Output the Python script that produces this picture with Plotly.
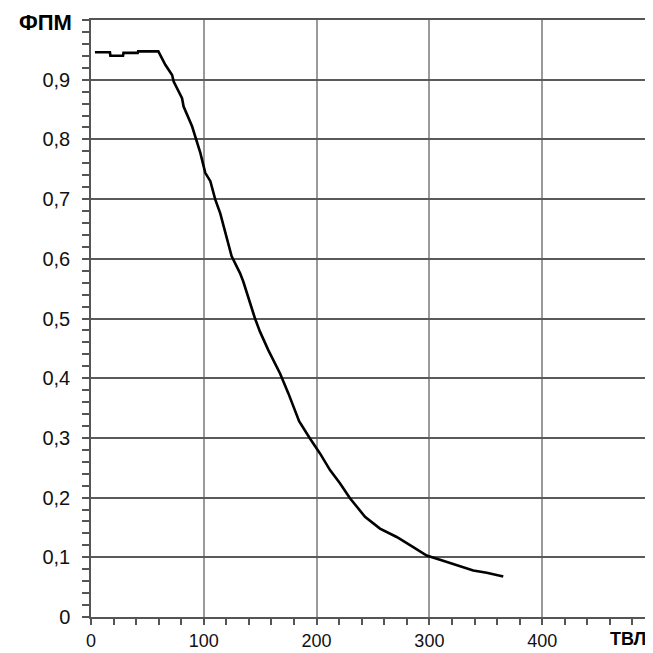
import plotly.graph_objects as go

# Data
tvl = [3.5, 16.8, 17.2, 28.4, 28.8, 41.4, 41.8, 59.7, 65.9, 71.9, 73.3, 80.7, 82.1, 89.6,
       97.0, 101.3, 105.8, 110.2, 114.6, 120.4, 124.7, 132.1, 135.0, 145.4, 149.8, 157.2,
       167.6, 174.9, 184.5, 194.1, 203.0, 211.9, 220.7, 229.6, 242.9, 256.2, 271.0, 285.7,
       297.6, 309.4, 324.2, 338.9, 350.8, 365.5]
fpm = [0.946, 0.946, 0.940, 0.940, 0.945, 0.945, 0.9475, 0.9475, 0.925, 0.908, 0.897, 0.869,
       0.855, 0.822, 0.777, 0.744, 0.730, 0.699, 0.676, 0.634, 0.604, 0.576, 0.562, 0.500,
       0.478, 0.447, 0.408, 0.375, 0.328, 0.299, 0.274, 0.246, 0.224, 0.199, 0.168, 0.148,
       0.134, 0.117, 0.103, 0.096, 0.087, 0.078, 0.074, 0.068]

x_tickvals = [0, 100, 200, 300, 400]
x_ticktext = ["0", "100", "200", "300", "400"]
y_tickvals = [0, 0.1, 0.2, 0.3, 0.4, 0.5, 0.6, 0.7, 0.8, 0.9, 1.0]
y_ticktext = ["0", "0,1", "0,2", "0,3", "0,4", "0,5", "0,6", "0,7", "0,8", "0,9", ""]

x_title = "ТВЛ"
y_title = "ФПМ"

FONT = "Liberation Sans, Arial, sans-serif"

fig = go.Figure()
fig.add_trace(go.Scatter(x=tvl, y=fpm, mode="lines",
                         line=dict(color="black", width=2.6), showlegend=False,
                         hoverinfo="skip"))

# page body has an 8px default margin, so the figure is sized 645 and offset accordingly
fig.update_layout(
    template="none",
    width=645, height=645,
    margin=dict(l=83, r=4, t=12, b=36, pad=0, autoexpand=False),
    paper_bgcolor="white", plot_bgcolor="white",
    font=dict(family=FONT, size=18, color="#111"),
    xaxis=dict(
        range=[0, 494.7], tickvals=x_tickvals, ticktext=x_ticktext, automargin=False,
        showgrid=True, gridcolor="#9a9a9a", gridwidth=1.5, zeroline=False,
        showline=True, linecolor="#555", linewidth=1.5, mirror=True,
        ticks="outside", ticklen=6, tickwidth=1.5, tickcolor="#555",
        ticklabelstandoff=1,
        minor=dict(dtick=20, ticks="outside", ticklen=6, tickwidth=1.5,
                   tickcolor="#555", showgrid=False),
        tickfont=dict(family=FONT, size=18, color="#111"),
    ),
    yaxis=dict(
        range=[0, 1.0], tickvals=y_tickvals, ticktext=y_ticktext, automargin=False,
        showgrid=True, gridcolor="#5a5a5a", gridwidth=1.5, zeroline=False,
        showline=True, linecolor="#555", linewidth=1.5, mirror=True,
        ticks="outside", ticklen=7, tickwidth=1.5, tickcolor="#555",
        ticklabelstandoff=8,
        minor=dict(dtick=0.02, ticks="outside", ticklen=7, tickwidth=1.5,
                   tickcolor="#555", showgrid=False),
        tickfont=dict(family=FONT, size=20, color="#111"),
    ),
    annotations=[
        dict(text="<b>" + y_title + "</b>", xref="paper", yref="paper", x=0, y=1,
             xanchor="right", yanchor="middle", xshift=-17, yshift=-2, showarrow=False,
             font=dict(family=FONT, size=22, color="black")),
        dict(text="<b>" + x_title + "</b>", xref="paper", yref="paper", x=1, y=0,
             xanchor="right", yanchor="middle", xshift=-1, yshift=-22, showarrow=False,
             font=dict(family=FONT, size=18, color="black")),
    ],
)

fig.write_html("out.html")
